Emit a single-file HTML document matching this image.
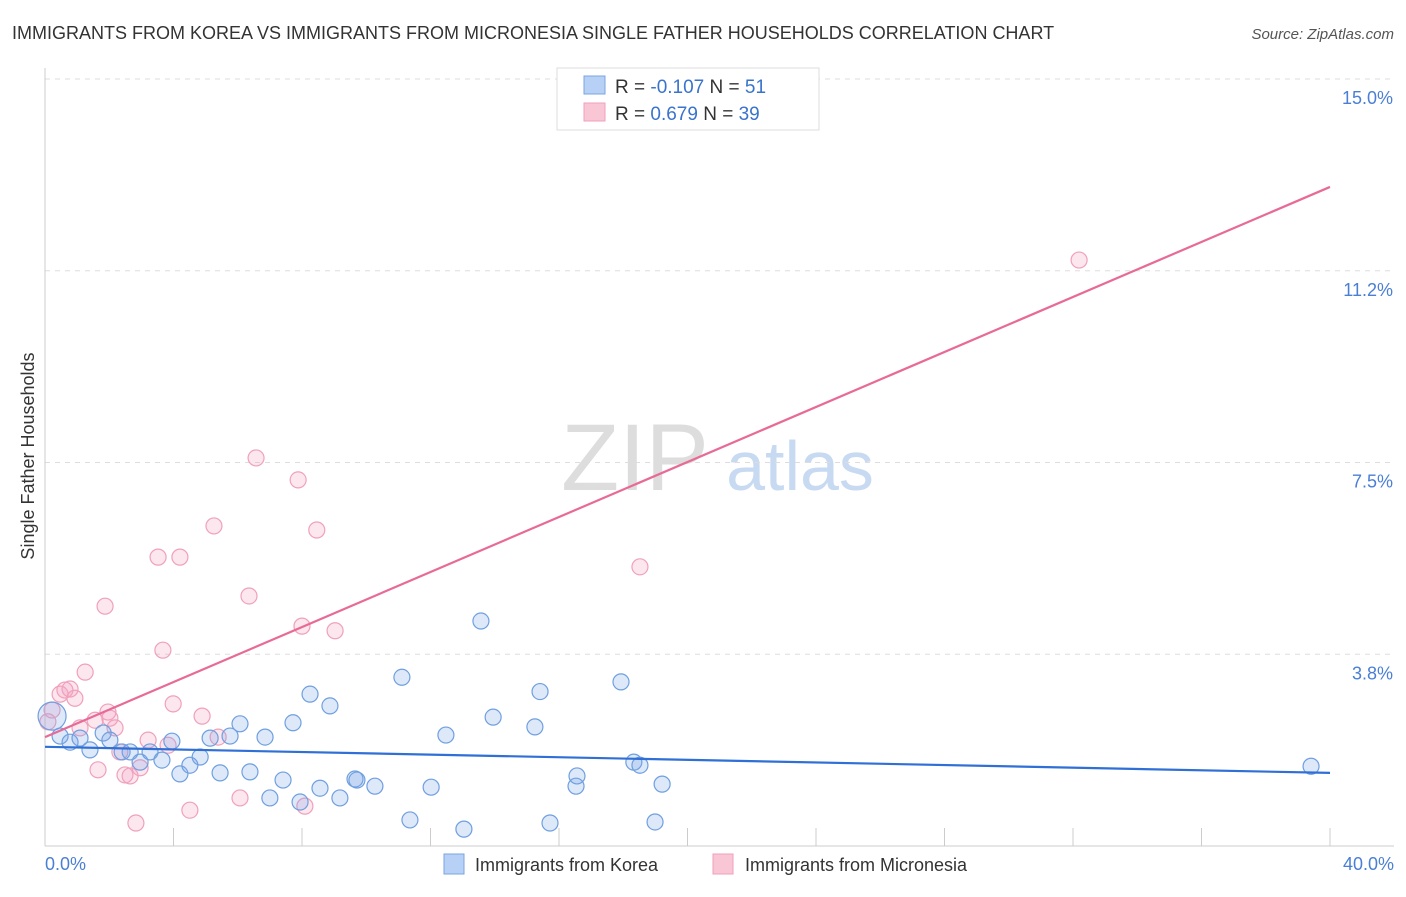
<!DOCTYPE html>
<html><head><meta charset="utf-8"><style>
body{margin:0;background:#fff;font-family:"Liberation Sans",sans-serif;}
svg text{font-family:"Liberation Sans",sans-serif;}
</style></head><body>
<svg id="chart" width="1406" height="892" viewBox="0 0 1406 892">
<text x="12" y="39" font-size="18" fill="#333">IMMIGRANTS FROM KOREA VS IMMIGRANTS FROM MICRONESIA SINGLE FATHER HOUSEHOLDS CORRELATION CHART</text>
<text x="1394" y="39" font-size="15" fill="#555" font-style="italic" text-anchor="end">Source: ZipAtlas.com</text>
<g>
<text x="635" y="490" font-size="95" fill="#ddd" font-family="Liberation Serif" text-anchor="middle">ZIP</text>
<text x="800" y="490" font-size="70" fill="#c8daf2" text-anchor="middle">atlas</text>
</g>
<g id="grid"></g>
<g id="axes"></g>
<g id="points"></g>
<g id="trends"></g>
<text transform="translate(34,456) rotate(-90)" font-size="18" fill="#333" text-anchor="middle">Single Father Households</text>
<text x="45" y="870" font-size="18" fill="#4a7fd4">0.0%</text>
<text x="1394" y="870" font-size="18" fill="#4a7fd4" text-anchor="end">40.0%</text>
<g>
<rect x="557" y="68" width="262" height="62" fill="#fff" stroke="#ddd"/>
<rect x="584" y="76" width="21" height="18" fill="#b7d0f5" stroke="#7aa6e0"/>
<rect x="584" y="103" width="21" height="18" fill="#f9c6d5" stroke="#f0a0bb"/>
<text x="615" y="93" font-size="19" fill="#333">R = <tspan fill="#3a73cc">-0.107</tspan>   N = <tspan fill="#3a73cc"> 51</tspan></text>
<text x="615" y="120" font-size="19" fill="#333">R =  <tspan fill="#3a73cc">0.679</tspan>   N = <tspan fill="#3a73cc">39</tspan></text>
</g>
<g>
<rect x="444" y="854" width="20" height="20" fill="#b7d0f5" stroke="#7aa6e0"/>
<text x="475" y="871" font-size="18" fill="#333">Immigrants from Korea</text>
<rect x="713" y="854" width="20" height="20" fill="#f9c6d5" stroke="#f0a0bb"/>
<text x="745" y="871" font-size="18" fill="#333">Immigrants from Micronesia</text>
</g>
</svg>
<script>
const yTicks=[15,11.25,7.5,3.75];
const yTickLabels=["15.0%","11.2%","7.5%","3.8%"];
const xTicks=[0,4,8,12,16,20,24,28,32,36,40];
const koreaX=[0.22,0.47,0.78,1.09,1.40,1.81,2.02,2.40,2.65,2.96,3.27,3.64,3.95,4.20,4.51,4.83,5.14,5.45,5.76,6.07,6.38,6.85,7.00,7.41,7.72,7.94,8.25,8.56,8.87,9.18,9.65,9.71,10.27,11.11,11.36,12.02,12.48,13.04,13.57,13.95,15.25,15.41,15.72,16.53,16.56,17.93,18.33,18.52,18.99,19.21,39.41];
const koreaY=[2.54,2.15,2.03,2.11,1.88,2.21,2.07,1.84,1.84,1.64,1.84,1.68,2.05,1.41,1.58,1.74,2.11,1.43,2.15,2.39,1.45,2.13,0.94,1.29,2.41,0.86,2.97,1.13,2.74,0.94,1.31,1.29,1.17,3.30,0.51,1.15,2.17,0.33,4.40,2.52,2.33,3.02,0.45,1.17,1.37,3.21,1.64,1.58,0.47,1.21,1.56];
const microX=[0.09,0.22,0.47,0.62,0.78,0.93,1.25,1.09,1.56,1.65,1.87,1.96,2.18,2.33,2.49,2.65,2.83,2.96,3.21,3.52,3.67,3.83,3.99,4.20,4.51,4.89,5.26,5.39,6.07,6.35,6.57,7.88,8.00,8.09,8.46,9.03,18.52,32.19,2.02];
const microY=[2.43,2.66,2.97,3.05,3.07,2.89,3.40,2.31,2.46,1.49,4.69,2.62,2.31,1.84,1.39,1.37,0.45,1.53,2.07,5.65,3.83,1.97,2.78,5.65,0.70,2.54,6.26,2.13,0.94,4.89,7.59,7.16,4.30,0.78,6.18,4.21,5.46,11.46,2.50];
const koreaTrend=[1.94,1.43];
const microTrend=[2.13,12.89];
const sx=v=>45+v*32.125, sy=v=>846-v*51.13;
const NS="http://www.w3.org/2000/svg";
function mk(p,t,a){const e=document.createElementNS(NS,t);for(const k in a)e.setAttribute(k,a[k]);document.getElementById(p).appendChild(e);return e;}
yTicks.forEach((v,i)=>{
 const l=mk('grid','line',{x1:45,x2:1394,y1:sy(v),y2:sy(v),stroke:'#ddd','stroke-dasharray':'5,5'});
 
 
 const t=mk('grid','text',{x:1393,y:sy(v)+25,'font-size':18,fill:'#4a7fd4','text-anchor':'end'});
 t.textContent=yTickLabels[i];
 
 
});
const ax=mk('axes','line',{x1:45,x2:45,y1:68,y2:846,stroke:'#ccc'});


const bx=mk('axes','line',{x1:45,x2:1394,y1:846,y2:846,stroke:'#ccc'});


xTicks.forEach(v=>{
 const t=mk('axes','line',{x1:sx(v),x2:sx(v),y1:828,y2:846,stroke:'#ccc'});
 
 
});
function pts(X,Y,fill,stroke,name){
 X.forEach((x,i)=>{
  const r=(i===0&&name==='korea-point')?14:8;
  const c=mk('points','circle',{cx:sx(x),cy:sy(Y[i]),r:r,fill:fill,stroke:stroke,'stroke-width':1.2});
  
  
 });
}
pts(microX,microY,'rgba(244,160,190,0.25)','#f0a0bb','micronesia-point');
pts(koreaX,koreaY,'rgba(120,165,230,0.25)','#6f9fe0','korea-point');
const t1=mk('trends','line',{x1:sx(0),x2:sx(40),y1:sy(koreaTrend[0]),y2:sy(koreaTrend[1]),stroke:'#2f6fd6','stroke-width':2.2});


const t2=mk('trends','line',{x1:sx(0),x2:sx(40),y1:sy(microTrend[0]),y2:sy(microTrend[1]),stroke:'#e86a96','stroke-width':2.2});


</script>
</body></html>
